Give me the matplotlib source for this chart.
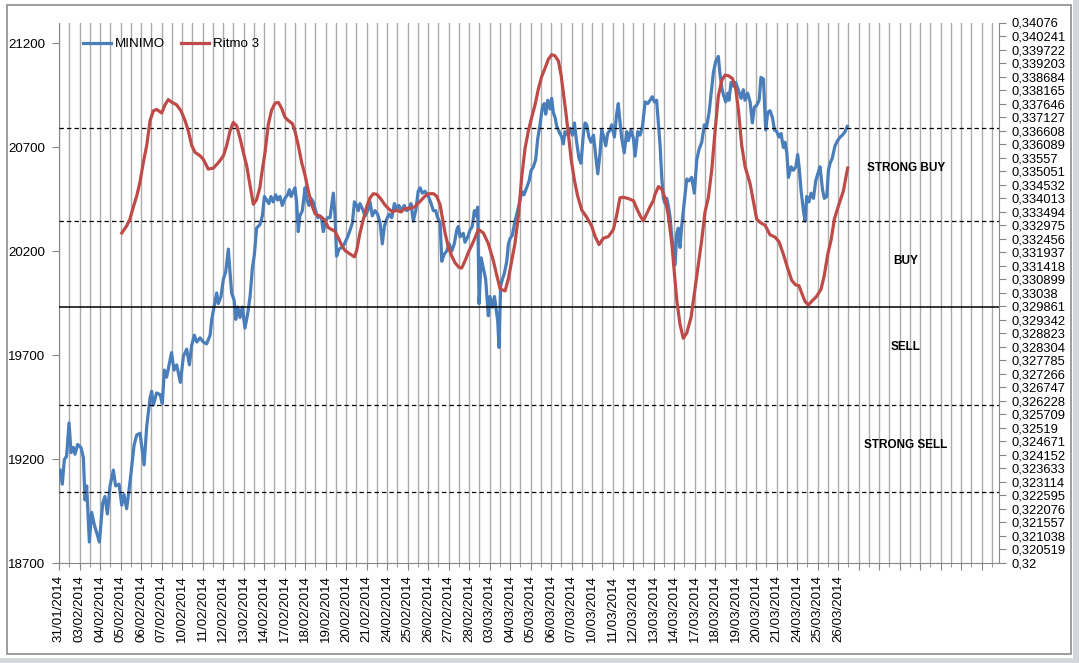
import numpy as np
import matplotlib.pyplot as plt
from matplotlib.patches import Rectangle

# date labels of the category axis (one per trading day)
date_labels = ["31/01/2014", "03/02/2014", "04/02/2014", "05/02/2014", "06/02/2014",
               "07/02/2014", "10/02/2014", "11/02/2014", "12/02/2014", "13/02/2014",
               "14/02/2014", "17/02/2014", "18/02/2014", "19/02/2014", "20/02/2014",
               "21/02/2014", "24/02/2014", "25/02/2014", "26/02/2014", "27/02/2014",
               "28/02/2014", "03/03/2014", "04/03/2014", "05/03/2014", "06/03/2014",
               "07/03/2014", "10/03/2014", "11/03/2014", "12/03/2014", "13/03/2014",
               "14/03/2014", "17/03/2014", "18/03/2014", "19/03/2014", "20/03/2014",
               "21/03/2014", "24/03/2014", "25/03/2014", "26/03/2014"]

# MINIMO (left axis), position in day units
minimo_x = [0.05, 0.16, 0.26, 0.37, 0.49, 0.59, 0.70, 0.78, 0.91, 1.07, 1.19, 1.27, 1.35, 1.48,
            1.59, 1.72, 1.82, 1.97, 2.13, 2.24, 2.36, 2.49, 2.65, 2.76, 2.93, 3.06, 3.17, 3.30,
            3.41, 3.51, 3.66, 3.79, 3.95, 4.03, 4.15, 4.28, 4.44, 4.52, 4.60, 4.76, 4.93, 5.04,
            5.14, 5.25, 5.37, 5.49, 5.61, 5.74, 5.92, 6.07, 6.23, 6.36, 6.47, 6.60, 6.72, 6.88,
            7.04, 7.20, 7.37, 7.45, 7.58, 7.69, 7.77, 7.90, 8.02, 8.13, 8.26, 8.34, 8.42, 8.54,
            8.62, 8.72, 8.83, 8.94, 9.07, 9.20, 9.32, 9.43, 9.53, 9.64, 9.80, 9.92, 10.02,
            10.13, 10.24, 10.34, 10.45, 10.57, 10.67, 10.78, 10.89, 11.02, 11.15, 11.24, 11.32,
            11.43, 11.51, 11.59, 11.67, 11.75, 11.87, 12.00, 12.08, 12.19, 12.29, 12.40, 12.49,
            12.62, 12.73, 12.81, 12.89, 13.01, 13.10, 13.22, 13.30, 13.38, 13.46, 13.54, 13.66,
            13.79, 13.92, 14.08, 14.20, 14.31, 14.41, 14.52, 14.60, 14.68, 14.80, 14.93, 15.06,
            15.17, 15.28, 15.41, 15.54, 15.66, 15.77, 15.87, 15.98, 16.10, 16.23, 16.36, 16.47,
            16.58, 16.71, 16.84, 16.96, 17.07, 17.17, 17.28, 17.40, 17.52, 17.61, 17.72, 17.85,
            18.02, 18.15, 18.26, 18.37, 18.47, 18.59, 18.67, 18.78, 18.91, 19.03, 19.16, 19.28,
            19.40, 19.48, 19.56, 19.64, 19.72, 19.80, 19.94, 20.05, 20.16, 20.26, 20.34, 20.42,
            20.49, 20.59, 20.70, 20.81, 20.94, 21.02, 21.14, 21.24, 21.33, 21.40, 21.46, 21.54,
            21.63, 21.72, 21.84, 21.92, 22.00, 22.11, 22.24, 22.37, 22.49, 22.57, 22.68, 22.81,
            22.93, 23.03, 23.14, 23.25, 23.35, 23.46, 23.58, 23.67, 23.74, 23.84, 23.95, 24.03,
            24.11, 24.20, 24.28, 24.39, 24.52, 24.60, 24.68, 24.81, 24.93, 25.04, 25.14, 25.25,
            25.36, 25.46, 25.58, 25.66, 25.74, 25.85, 25.95, 26.07, 26.18, 26.28, 26.39, 26.47,
            26.55, 26.67, 26.76, 26.88, 26.96, 27.09, 27.20, 27.28, 27.36, 27.45, 27.57, 27.69,
            27.77, 27.90, 28.02, 28.10, 28.23, 28.34, 28.46, 28.59, 28.72, 28.83, 28.94, 29.04,
            29.15, 29.24, 29.32, 29.40, 29.48, 29.56, 29.64, 29.72, 29.80, 29.89, 29.97, 30.05,
            30.13, 30.21, 30.29, 30.37, 30.50, 30.62, 30.73, 30.86, 30.99, 31.11, 31.22, 31.35,
            31.48, 31.59, 31.71, 31.80, 31.92, 32.03, 32.16, 32.24, 32.33, 32.41, 32.52, 32.62,
            32.68, 32.78, 32.89, 33.01, 33.13, 33.27, 33.38, 33.46, 33.59, 33.71, 33.82, 33.92,
            34.03, 34.15, 34.24, 34.36, 34.47, 34.57, 34.68, 34.80, 34.90, 35.01, 35.12, 35.22,
            35.33, 35.41, 35.50, 35.58, 35.71, 35.82, 35.94, 36.03, 36.10, 36.20, 36.31, 36.39,
            36.47, 36.58, 36.68, 36.80, 36.91, 37.01, 37.12, 37.24, 37.33, 37.45, 37.53, 37.61,
            37.72, 37.85, 37.98, 38.10, 38.21, 38.34, 38.45]
minimo_y = [19147, 19079, 19197, 19214, 19374, 19231, 19256, 19223, 19270, 19256, 19206, 19003,
            19071, 18801, 18944, 18885, 18852, 18801, 18987, 19020, 18936, 19071, 19147, 19071,
            19079, 18978, 19029, 18961, 19046, 19130, 19265, 19316, 19324, 19265, 19172, 19358,
            19493, 19526, 19459, 19518, 19510, 19467, 19628, 19594, 19653, 19712, 19628, 19653,
            19569, 19695, 19729, 19653, 19746, 19796, 19763, 19783, 19763, 19754, 19796, 19872,
            19940, 19999, 19948, 19982, 20066, 20100, 20210, 20100, 19999, 19965, 19872, 19931,
            19881, 19931, 19830, 19897, 19982, 20117, 20184, 20311, 20328, 20370, 20463,
            20446, 20429, 20463, 20437, 20471, 20446, 20463, 20420, 20454, 20471, 20496, 20463,
            20488, 20505, 20437, 20294, 20370, 20395, 20505, 20454, 20420, 20454, 20437, 20404,
            20361, 20370, 20353, 20294, 20344, 20361, 20361, 20420, 20479, 20378, 20176, 20210,
            20218, 20235, 20269, 20302, 20336, 20437, 20420, 20395, 20429, 20404, 20370, 20395,
            20437, 20370, 20395, 20378, 20336, 20235, 20319, 20353, 20378, 20361, 20429, 20404,
            20420, 20395, 20420, 20395, 20404, 20429, 20344, 20395, 20488, 20505, 20479, 20488,
            20463, 20429, 20395, 20395, 20361, 20336, 20151, 20184, 20201, 20235, 20201, 20235,
            20302, 20319, 20269, 20277, 20286, 20243, 20269, 20302, 20319, 20395, 20370, 20412,
            19948, 20168, 20117, 20066, 19889, 19982, 19931, 19982, 19914, 19864, 19737, 20032,
            20066, 20092, 20151, 20235, 20260, 20277, 20344, 20395, 20446, 20488, 20471, 20505,
            20538, 20589, 20606, 20640, 20741, 20808, 20893, 20910, 20859, 20926, 20884, 20935,
            20867, 20842, 20800, 20775, 20749, 20716, 20775, 20758, 20791, 20758, 20817, 20724,
            20648, 20623, 20766, 20817, 20808, 20749, 20724, 20758, 20657, 20572, 20673, 20783,
            20758, 20707, 20766, 20783, 20808, 20749, 20859, 20910, 20825, 20741, 20673, 20775,
            20732, 20783, 20741, 20657, 20775, 20758, 20800, 20918, 20910, 20926, 20943, 20918,
            20926, 20808, 20707, 20555, 20454, 20429, 20454, 20420, 20370, 20269, 20201, 20134,
            20285, 20311, 20218, 20319, 20437, 20547, 20538, 20555, 20479, 20640, 20690, 20724,
            20808, 20800, 20867, 20952, 21061, 21112, 21137, 21053, 20985, 20952, 20918, 20960,
            20926, 21011, 20994, 21011, 20977, 20935, 20977, 20926, 20960, 20918, 20817, 20893,
            20901, 20926, 21036, 21028, 20783, 20867, 20876, 20842, 20783, 20775, 20749, 20766,
            20699, 20724, 20673, 20555, 20606, 20589, 20606, 20665, 20606, 20488, 20395, 20344,
            20463, 20437, 20479, 20454, 20538, 20572, 20606, 20496, 20454, 20463, 20589, 20623,
            20648, 20707, 20732, 20749, 20758, 20775, 20800]

# Ritmo 3 (right axis)
ritmo_x = [3.06, 3.30, 3.46, 3.63, 3.79, 3.95, 4.11, 4.28, 4.44, 4.60, 4.76, 5.01, 5.17, 5.33,
           5.49, 5.74, 5.95, 6.15, 6.31, 6.47, 6.63, 6.88, 7.04, 7.28, 7.53, 7.77, 8.02, 8.18,
           8.34, 8.50, 8.67, 8.83, 8.99, 9.16, 9.32, 9.48, 9.64, 9.80,
           9.89, 10.05, 10.21, 10.37, 10.54, 10.70, 10.86, 11.02, 11.19, 11.38, 11.51, 11.67,
           11.84, 12.00, 12.16, 12.33, 12.49, 12.65, 12.81, 12.98, 13.14, 13.30, 13.46, 13.63,
           13.79, 13.95, 14.20, 14.41, 14.52, 14.68, 14.85, 15.01, 15.17, 15.33, 15.50, 15.66,
           15.90, 16.06, 16.26, 16.47, 16.68, 16.88, 17.12, 17.36, 17.61, 17.85, 18.02, 18.26,
           18.42, 18.59, 18.71, 18.83, 18.99, 19.15, 19.32, 19.51,
           19.64, 19.80, 19.97, 20.21, 20.46, 20.70, 20.94, 21.19, 21.35, 21.52, 21.76, 21.92,
           22.08, 22.24, 22.41, 22.57, 22.73, 22.89, 23.06, 23.22, 23.38, 23.54, 23.71, 23.87,
           24.03, 24.19, 24.36, 24.49, 24.60, 24.72, 24.85, 24.98, 25.14, 25.30, 25.50, 25.74,
           25.98, 26.15, 26.34, 26.55, 26.80, 27.04, 27.20, 27.36, 27.53, 27.77, 28.02, 28.18,
           28.34, 28.50, 28.67, 28.83, 28.99,
           29.07, 29.24, 29.40, 29.56, 29.72, 29.89, 30.01, 30.13, 30.29, 30.45, 30.62, 30.83,
           31.02, 31.19, 31.35, 31.51, 31.67, 31.84, 32.00, 32.16, 32.33, 32.49, 32.65, 32.85,
           33.01, 33.14, 33.30, 33.46, 33.71, 33.87, 34.03, 34.20, 34.44, 34.68, 34.93, 35.12,
           35.33, 35.54, 35.74, 35.93, 36.09, 36.22, 36.39, 36.55, 36.71, 36.96, 37.17, 37.33,
           37.50, 37.66, 37.82, 37.98, 38.15, 38.26, 38.37, 38.47]
ritmo_y = [0.332675, 0.332945, 0.333214, 0.333686, 0.334091, 0.334630, 0.335372, 0.336045,
           0.336989, 0.337367, 0.337421, 0.337286, 0.337596, 0.337798, 0.337704, 0.337596,
           0.337367, 0.336989, 0.336585, 0.336045, 0.335776, 0.335641, 0.335506, 0.335129,
           0.335169, 0.335372, 0.335641, 0.336045, 0.336585, 0.336922, 0.336787, 0.336315,
           0.335776, 0.335237, 0.334495, 0.333780, 0.333956, 0.334428,
           0.334967, 0.335776, 0.336854, 0.337394, 0.337663, 0.337690, 0.337461, 0.337124,
           0.336989, 0.336881, 0.336585, 0.336045, 0.335372, 0.334900, 0.334293, 0.333754,
           0.333416, 0.333349, 0.333281, 0.333146, 0.332877, 0.332810, 0.332742, 0.332472,
           0.332203, 0.332001, 0.331866, 0.331758, 0.332001, 0.332675, 0.333214, 0.333686,
           0.334023, 0.334185, 0.334158, 0.334023, 0.333754, 0.333619, 0.333484, 0.333551,
           0.333484, 0.333619, 0.333619, 0.333686, 0.333888, 0.334091, 0.334185, 0.334185,
           0.334091, 0.333754, 0.333214, 0.332675, 0.332136, 0.331799, 0.331529, 0.331354,
           0.331327, 0.331597, 0.331934, 0.332338, 0.332810, 0.332675, 0.332271, 0.331597,
           0.331058, 0.330519, 0.330451, 0.330923, 0.331597, 0.332271, 0.333349, 0.334832,
           0.335911, 0.336585, 0.337124, 0.337596, 0.338203, 0.338674, 0.339011, 0.339349,
           0.339524, 0.339483, 0.339281, 0.338742, 0.338068, 0.337326, 0.336450, 0.335506,
           0.334697, 0.334091, 0.333551, 0.333281, 0.332945, 0.332540, 0.332230, 0.332473,
           0.332540, 0.332810, 0.333349, 0.334023, 0.334050, 0.333996, 0.333916, 0.333619,
           0.333349, 0.333146, 0.333416, 0.333686, 0.333916,
           0.334158, 0.334455, 0.334361, 0.334023, 0.333349, 0.332271, 0.331192, 0.330113,
           0.329170, 0.328631, 0.328833, 0.329440, 0.330518, 0.331462, 0.332406, 0.333484,
           0.334023, 0.335102, 0.336585, 0.337933, 0.338540, 0.338742, 0.338715, 0.338607,
           0.338203, 0.337394, 0.336045, 0.335237, 0.334563, 0.333888, 0.333214, 0.333079,
           0.332972, 0.332607, 0.332513, 0.332338, 0.331866, 0.331327, 0.330855, 0.330680,
           0.330653, 0.330383, 0.330046, 0.329911, 0.330046, 0.330248, 0.330518, 0.331058,
           0.331866, 0.332406, 0.333214, 0.333619, 0.334023, 0.334293, 0.334765, 0.335169]

# signal thresholds on the right axis
dashed_levels = [0.33672, 0.33314, 0.32607, 0.32274]
solid_level = 0.32984
zone_names = ["STRONG BUY", "BUY", "SELL", "STRONG SELL"]
zone_levels = [0.33516, 0.33160, 0.32831, 0.32452]

right_ticks = [0.32 + k * 0.000519 for k in range(41)]

plt.rcParams['font.family'] = ['Liberation Sans', 'DejaVu Sans']

W, H = 1079, 663
fig = plt.figure(figsize=(W / 100, H / 100), dpi=100)
fig.patch.set_facecolor('white')

# chart frame like Excel's chart area
fig.add_artist(Rectangle((1073 / W, 0), 6 / W, 1, transform=fig.transFigure,
                         facecolor='#d4d8dd', edgecolor='none'))
fig.add_artist(Rectangle((0, 0), 1, 5 / H, transform=fig.transFigure,
                         facecolor='#d4d8dd', edgecolor='none'))
fig.add_artist(Rectangle((7 / W, (H - 654) / H), (1071 - 7) / W, (654 - 5) / H,
                         transform=fig.transFigure, facecolor='none',
                         edgecolor='#8c8c8c', linewidth=1.2))

ax = fig.add_axes([59 / W, (H - 563) / H, (999 - 59) / W, (563 - 22.5) / H])
ax2 = ax.twinx()

grey = '#868686'
blue = '#4a7ebb'
red = '#be4b48'

line1, = ax.plot(minimo_x, minimo_y, color=blue, linewidth=2.3, label='MINIMO', zorder=3)
line2, = ax2.plot(ritmo_x, ritmo_y, color=red, linewidth=2.3, label='Ritmo 3', zorder=4)

for lv in dashed_levels:
    ax2.axhline(lv, color='black', linewidth=0.9, linestyle=(0, (3.5, 2.5)), zorder=2)
ax2.axhline(solid_level, color='black', linewidth=1.1, zorder=2)

for name, lv in zip(zone_names, zone_levels):
    ax2.text(41.3, lv, name, ha='center', va='center', fontsize=8.5,
             fontweight='bold', color='black')

# x axis: one label per day, gridline every half day
ax.set_xlim(0, 45.85)
ax.set_xticks(np.arange(0, 46, 1))
ax.set_xticklabels(date_labels + [''] * (46 - len(date_labels)), rotation=90, fontsize=9.6)
ax.set_xticks(np.arange(0.5, 46, 1), minor=True)
ax.grid(True, which='both', axis='x', color='#ababab', linewidth=1.0)
ax.tick_params(axis='x', which='major', length=5, color=grey, pad=4)
ax.tick_params(axis='x', which='minor', length=3, color=grey)
ax.set_axisbelow(True)

ax.set_ylim(18700, 21300)
ax.set_yticks(np.arange(18700, 21201, 500))
ax.tick_params(axis='y', length=5, color=grey, labelsize=9.6, pad=5)

ax2.set_ylim(0.32, 0.34076)
ax2.set_yticks(right_ticks)
ax2.set_yticklabels([('%.6f' % t).rstrip('0').replace('.', ',') for t in right_ticks])
ax2.tick_params(axis='y', length=5, color=grey, labelsize=9.3, pad=4)

for a in (ax, ax2):
    a.spines['top'].set_visible(False)
    for s in ('left', 'right', 'bottom'):
        a.spines[s].set_color(grey)
ax2.spines['left'].set_visible(False)
ax2.spines['bottom'].set_visible(False)
ax.spines['right'].set_visible(False)

ax2.legend(handles=[line1, line2], loc='upper left', ncol=2, frameon=False,
           bbox_to_anchor=(83 / W, 1 - 38 / H), bbox_transform=fig.transFigure,
           borderaxespad=0, borderpad=0, handlelength=2.1, handletextpad=0.3,
           columnspacing=1.2, fontsize=9.6)

fig.savefig('out.png', dpi=100)
